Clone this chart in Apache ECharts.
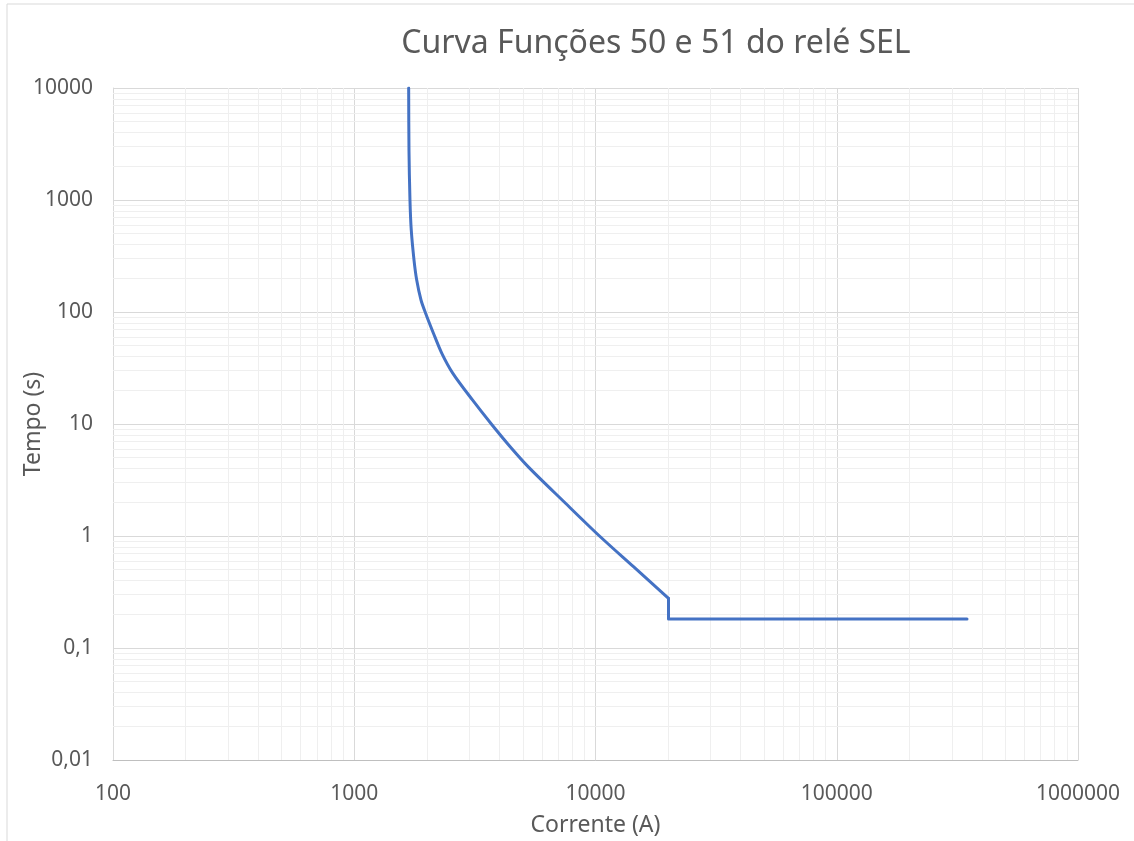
<!DOCTYPE html>
<html>
<head>
<meta charset="utf-8">
<title>Curva Funções 50 e 51 do relé SEL</title>
<script src="https://cdn.jsdelivr.net/npm/echarts@6/dist/echarts.min.js"></script>
<style>
  html, body { margin: 0; padding: 0; background: #fff; }
  #main { width: 1134px; height: 841px; }
</style>
</head>
<body>
<div id="main"></div>
<script>
// corrente (A) x tempo (s), lido do gráfico
// trecho 51 (curva inversa)
var current = [1681, 1686, 1702, 1723, 1769, 1815, 1891, 1974, 2127, 2304, 2559, 3090, 3700, 4420, 5290, 7440, 10440, 14370, 20070];
var time = [10000, 2800, 1000, 540, 291, 193, 128, 98, 65, 43, 28.5, 16.4, 10, 6.3, 4.1, 2.0, 0.99, 0.532, 0.278];
// trecho 50 (instantâneo)
var currentInst = [20070, 20070, 346700];
var timeInst = [0.278, 0.1815, 0.1815];

var xDecades = [100, 1000, 10000, 100000];
var yDecades = [0.01, 0.1, 1, 10, 100, 1000];
var minorSteps = [2, 3, 4, 5, 6, 7, 8, 9];

var textColor = '#595959';
var font = 'Noto Sans';
var lineColor = '#4472c4';

function pairs(xs, ys) {
  var out = [];
  for (var i = 0; i < xs.length; i++) {
    out.push([xs[i], ys[i]]);
  }
  return out;
}

function plainNumber(v) {
  return String(+v.toPrecision(6)).replace('.', ',');
}

// linhas de grade secundárias (2..9 em cada década)
var minorLines = [];
xDecades.forEach(function (d) {
  minorSteps.forEach(function (m) { minorLines.push({ xAxis: +(d * m).toPrecision(6) }); });
});
yDecades.forEach(function (d) {
  minorSteps.forEach(function (m) { minorLines.push({ yAxis: +(d * m).toPrecision(6) }); });
});

var chart = echarts.init(document.getElementById('main'));

var option = {
  animation: false,
  backgroundColor: '#fff',
  textStyle: { fontFamily: font },
  graphic: [{
    type: 'rect',
    shape: { x: 7, y: 4, width: 1200, height: 900 },
    style: { fill: 'none', stroke: '#d9d9d9', lineWidth: 1 },
    silent: true,
    z: -1
  }],
  title: {
    text: 'Curva Funções 50 e 51 do relé SEL',
    left: 651,
    textAlign: 'center',
    top: 23,
    textStyle: { color: textColor, fontSize: 32, fontWeight: 'normal', fontFamily: font }
  },
  grid: { left: 113, right: 56, top: 88, bottom: 81, containLabel: false, outerBoundsMode: 'none' },
  xAxis: {
    type: 'log',
    logBase: 10,
    min: 100,
    max: 1000000,
    name: 'Corrente (A)',
    nameLocation: 'middle',
    nameGap: 54,
    nameMoveOverlap: false,
    nameTextStyle: { color: textColor, fontSize: 23, fontFamily: font },
    axisLine: { show: true, lineStyle: { color: '#bfbfbf', width: 1 } },
    axisTick: { show: false },
    axisLabel: { color: textColor, fontSize: 21, margin: 24, fontFamily: font, formatter: plainNumber },
    splitLine: { show: true, lineStyle: { color: '#d9d9d9', width: 1 } }
  },
  yAxis: {
    type: 'log',
    logBase: 10,
    min: 0.01,
    max: 10000,
    name: 'Tempo (s)',
    nameLocation: 'middle',
    nameGap: 68,
    nameMoveOverlap: false,
    nameTextStyle: { color: textColor, fontSize: 23, fontFamily: font },
    axisLine: { show: true, lineStyle: { color: '#d9d9d9', width: 1 } },
    axisTick: { show: false },
    axisLabel: { color: textColor, fontSize: 21, margin: 20, fontFamily: font, formatter: plainNumber },
    splitLine: { show: true, lineStyle: { color: '#d9d9d9', width: 1 } }
  },
  series: [{
    type: 'line',
    data: [],
    silent: true,
    z: 1,
    markLine: {
      silent: true,
      symbol: 'none',
      animation: false,
      label: { show: false },
      lineStyle: { color: '#efefef', width: 1, type: 'solid' },
      data: minorLines
    }
  }, {
    type: 'line',
    data: pairs(current, time),
    showSymbol: false,
    symbol: 'none',
    smooth: 0.3,
    z: 5,
    lineStyle: { color: lineColor, width: 3, cap: 'round', join: 'round' }
  }, {
    type: 'line',
    data: pairs(currentInst, timeInst),
    showSymbol: false,
    symbol: 'none',
    z: 5,
    lineStyle: { color: lineColor, width: 3, cap: 'round', join: 'round' }
  }]
};

chart.setOption(option);
</script>
</body>
</html>
